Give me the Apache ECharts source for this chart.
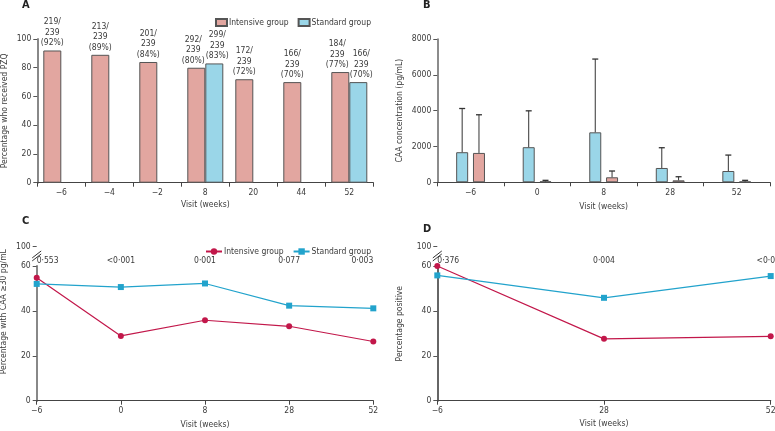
<!DOCTYPE html>
<html>
<head>
<meta charset="utf-8">
<script src="https://cdn.jsdelivr.net/npm/echarts@6/dist/echarts.min.js"></script>
<style>html,body{margin:0;padding:0;background:#fff}#c{width:775px;height:431px}</style>
</head>
<body>
<div id="c"></div>
<script>
// ---- Panel A data ----
const aCats = ['\u22126', '\u22124', '\u22122', '8', '20', '44', '52'];
const aIntensive = [92, 89, 84, 80, 72, 70, 77];
const aIntensiveN = [219, 213, 201, 292, 172, 166, 184];
const aStandard = [null, null, null, 83, null, null, 70];
const aStandardN = [null, null, null, 299, null, null, 166];
const aTotal = 239;

// ---- Panel B data ----
const bCats = ['\u22126', '0', '8', '28', '52'];
const bStdMean = [1680, 1960, 2790, 800, 630];
const bStdUpper = [4120, 3990, 6880, 1930, 1520];
const bIntMean = [1640, 50, 280, 110, 40];
const bIntUpper = [3770, 110, 630, 310, 110];

// ---- Panel C data ----
const cCats = ['\u22126', '0', '8', '28', '52'];
const cIntensive = [54.8, 28.9, 35.9, 33.2, 26.4];
const cStandard = [52.1, 50.7, 52.3, 42.4, 41.2];
const cP = ['0\u00b7553', '<0\u00b7001', '0\u00b7001', '0\u00b7077', '0\u00b7003'];

// ---- Panel D data ----
const dCats = ['\u22126', '28', '52'];
const dIntensive = [60.3, 27.6, 28.7];
const dStandard = [55.9, 45.9, 55.6];
const dP = ['0\u00b7376', '0\u00b7004', '<0\u00b7001'];

const FONT = "'DejaVu Sans Condensed', 'Liberation Sans', sans-serif";
const FS = 8.5;
const TXT = '#3a3a3a';
const PINK = '#e2a6a0';
const BLUE = '#9ad6e8';
const BORDER = '#555';
const RED = '#c2174a';
const CYAN = '#22a3cc';

const chart = echarts.init(document.getElementById('c'), null, {renderer: 'canvas'});

function xCat(gridIndex, data, extra) {
  return Object.assign({
    type: 'category', gridIndex, data,
    axisLine: {lineStyle: {color: '#444', width: 1.2}},
    axisTick: {show: true, length: 4, lineStyle: {color: '#444'}},
    axisLabel: {color: TXT, fontSize: FS, fontFamily: FONT, margin: 6},
    name: 'Visit (weeks)', nameLocation: 'middle', nameGap: 18,
    nameTextStyle: {color: TXT, fontSize: FS, fontFamily: FONT}
  }, extra || {});
}
function yVal(gridIndex, name, nameGap, extra) {
  return Object.assign({
    type: 'value', gridIndex,
    axisLine: {show: true, lineStyle: {color: '#666', width: 1.5}},
    axisTick: {show: true, length: 4, lineStyle: {color: '#555'}},
    axisLabel: {color: TXT, fontSize: FS, fontFamily: FONT, margin: 6},
    splitLine: {show: false},
    name, nameLocation: 'middle', nameGap,
    nameTextStyle: {color: TXT, fontSize: FS, fontFamily: FONT}
  }, extra || {});
}
function pAxis(gridIndex, data, alignMax) {
  return {
    type: 'category', gridIndex, data, position: 'top', boundaryGap: false,
    axisLine: {show: false}, axisTick: {show: false},
    axisLabel: {inside: true, margin: 10, color: TXT, fontSize: FS, fontFamily: FONT,
      alignMinLabel: 'left', alignMaxLabel: alignMax},
    splitLine: {show: false}
  };
}
function errBar(offset) {
  return function (params, api) {
    const x = api.value(0), mean = api.value(1), up = api.value(2);
    const top = api.coord([x, mean]);
    const hi = api.coord([x, up]);
    const cx = top[0] + offset;
    return {
      type: 'group', children: [
        {type: 'line', shape: {x1: cx, y1: top[1], x2: cx, y2: hi[1]}, style: {stroke: '#333', lineWidth: 1}},
        {type: 'line', shape: {x1: cx - 3, y1: hi[1], x2: cx + 3, y2: hi[1]}, style: {stroke: '#333', lineWidth: 1.3}}
      ]
    };
  };
}
const brk = [{start: 60, end: 100, gap: 8.7}];
const barLabel = (counts) => ({
  show: true, position: 'top', distance: 2, color: TXT, fontSize: FS, lineHeight: 10.5, fontFamily: FONT,
  formatter: p => counts[p.dataIndex] + '/\n' + aTotal + '\n(' + p.value + '%)'
});
// nudge paired labels apart where both groups have a bar
const aIntData = aIntensive.map((v, i) => aStandard[i] != null ? {value: v, label: {offset: [-3, 0]}} : v);
const aStdData = aStandard.map((v, i) => v != null ? {value: v, label: {offset: [3, 0]}} : v);

const option = {
  animation: false,
  textStyle: {fontFamily: FONT},
  grid: [
    {left: 37.3, top: 39, width: 336, height: 143.7, outerBoundsMode: 'none'},
    {left: 437.3, top: 39, width: 332.7, height: 143.3, outerBoundsMode: 'none'},
    {left: 36.7, top: 246.7, width: 336.6, height: 154, outerBoundsMode: 'none'},
    {left: 437.3, top: 246.7, width: 333.4, height: 154, outerBoundsMode: 'none'}
  ],
  xAxis: [
    xCat(0, aCats, {nameGap: 18}),
    xCat(1, bCats, {nameGap: 20}),
    xCat(2, cCats, {boundaryGap: false, nameGap: 20}),
    xCat(3, dCats, {boundaryGap: false, nameGap: 19}),
    pAxis(2, cP, 'right'),
    pAxis(3, dP, 'center')
  ],
  yAxis: [
    yVal(0, 'Percentage who received PZQ', 28.5, {min: 0, max: 100, interval: 20,
      axisLine: {show: true, lineStyle: {color: '#888', width: 2}}}),
    yVal(1, 'CAA concentration (pg/mL)', 33.5, {min: 0, max: 8000, interval: 2000,
      axisLabel: {color: TXT, fontSize: FS, fontFamily: FONT, margin: 6, formatter: v => String(v)}}),
    yVal(2, 'Percentage with CAA \u226530 pg/mL', 28.5, {min: 0, max: 100, interval: 20, breaks: brk,
      breakArea: {show: false}, axisLine: {show: true, lineStyle: {color: '#888', width: 2}},
      nameTextStyle: {color: TXT, fontSize: FS, fontFamily: FONT, padding: [0, 0, 0, 24]}}),
    yVal(3, 'Percentage positive', 33.5, {min: 0, max: 100, interval: 20, breaks: brk,
      breakArea: {show: false}, axisLine: {show: true, lineStyle: {color: '#333', width: 1.5}}})
  ],
  legend: [
    {
      data: ['Intensive group', 'Standard group'],
      right: 399, top: 13, icon: 'rect', itemWidth: 11, itemHeight: 7, itemGap: 9,
      textStyle: {color: TXT, fontSize: FS, fontFamily: FONT, padding: [0, 0, 0, -3]}
    },
    {
      data: ['C Intensive group', 'C Standard group'],
      formatter: n => n.replace(/^C /, ''),
      right: 399, top: 242, itemWidth: 16, itemHeight: 8, itemGap: 9,
      textStyle: {color: TXT, fontSize: FS, fontFamily: FONT, padding: [0, 0, 0, -3]}
    }
  ],
  series: [
    {
      name: 'Intensive group', type: 'bar', xAxisIndex: 0, yAxisIndex: 0,
      data: aIntData, barWidth: 18, barGap: '0%',
      itemStyle: {color: PINK, borderColor: BORDER, borderWidth: 1},
      label: barLabel(aIntensiveN)
    },
    {
      name: 'Standard group', type: 'bar', xAxisIndex: 0, yAxisIndex: 0,
      data: aStdData, barWidth: 18, barGap: '0%',
      itemStyle: {color: BLUE, borderColor: BORDER, borderWidth: 1},
      label: barLabel(aStandardN)
    },
    {
      name: 'B Standard', type: 'bar', xAxisIndex: 1, yAxisIndex: 1,
      data: bStdMean, barWidth: 12, barGap: '40%',
      itemStyle: {color: BLUE, borderColor: BORDER, borderWidth: 1}
    },
    {
      name: 'B Intensive', type: 'bar', xAxisIndex: 1, yAxisIndex: 1,
      data: bIntMean, barWidth: 12, barGap: '40%',
      itemStyle: {color: PINK, borderColor: BORDER, borderWidth: 1}
    },
    {
      name: 'B Standard err', type: 'custom', xAxisIndex: 1, yAxisIndex: 1, z: 3,
      renderItem: errBar(-8.4),
      data: bCats.map((c, i) => [i, bStdMean[i], bStdUpper[i]])
    },
    {
      name: 'B Intensive err', type: 'custom', xAxisIndex: 1, yAxisIndex: 1, z: 3,
      renderItem: errBar(8.4),
      data: bCats.map((c, i) => [i, bIntMean[i], bIntUpper[i]])
    },
    {
      name: 'C Intensive group', type: 'line', xAxisIndex: 2, yAxisIndex: 2,
      data: cIntensive, symbol: 'circle', symbolSize: 6,
      lineStyle: {color: RED, width: 1.2}, itemStyle: {color: RED}
    },
    {
      name: 'C Standard group', type: 'line', xAxisIndex: 2, yAxisIndex: 2,
      data: cStandard, symbol: 'rect', symbolSize: 6,
      lineStyle: {color: CYAN, width: 1.2}, itemStyle: {color: CYAN}
    },
    {
      name: 'D Intensive group', type: 'line', xAxisIndex: 3, yAxisIndex: 3,
      data: dIntensive, symbol: 'circle', symbolSize: 6,
      lineStyle: {color: RED, width: 1.2}, itemStyle: {color: RED}
    },
    {
      name: 'D Standard group', type: 'line', xAxisIndex: 3, yAxisIndex: 3,
      data: dStandard, symbol: 'rect', symbolSize: 6,
      lineStyle: {color: CYAN, width: 1.2}, itemStyle: {color: CYAN}
    }
  ],
  graphic: [
    {type: 'text', left: 22, top: 0, style: {text: 'A', font: 'bold 11px ' + FONT, fill: '#222'}},
    {type: 'text', left: 423, top: 0, style: {text: 'B', font: 'bold 11px ' + FONT, fill: '#222'}},
    {type: 'text', left: 22, top: 216, style: {text: 'C', font: 'bold 11px ' + FONT, fill: '#222'}},
    {type: 'text', left: 423, top: 224, style: {text: 'D', font: 'bold 11px ' + FONT, fill: '#222'}}
  ]
};
chart.setOption(option);

// axis-break slashes on the broken y-axes of panels C and D
const marks = [];
[2, 3].forEach(yi => {
  const y100 = chart.convertToPixel({yAxisIndex: yi}, 100);
  const y60 = chart.convertToPixel({yAxisIndex: yi}, 60);
  const x = chart.convertToPixel({xAxisIndex: yi}, 0);
  const mid = (y100 + y60) / 2;
  marks.push({type: 'polygon', shape: {points: [[x - 4.5, mid + 1.5], [x + 4.5, mid - 5.5], [x + 4.5, mid - 2.5], [x - 4.5, mid + 4.5]]},
    style: {fill: '#fff'}, z: 50});
  [-1.5, 1.5].forEach(d => {
    marks.push({type: 'line', shape: {x1: x - 4.5, y1: mid + 3 + d, x2: x + 4.5, y2: mid - 4 + d},
      style: {stroke: '#333', lineWidth: 1}, z: 51});
  });
});
chart.setOption({graphic: option.graphic.concat(marks)});
</script>
</body>
</html>
